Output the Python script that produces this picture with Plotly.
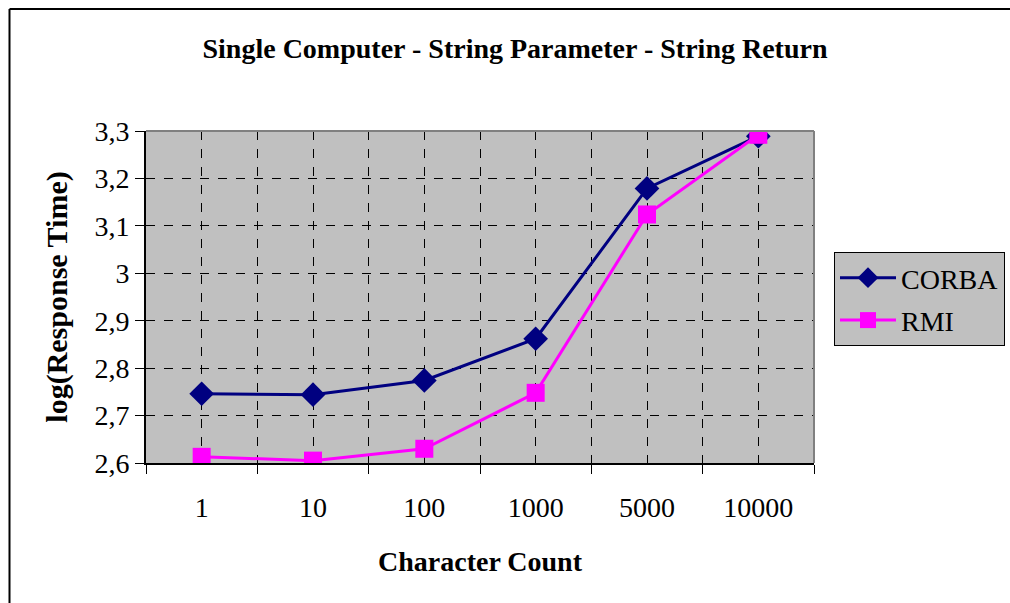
import plotly.graph_objects as go

# Data
categories = ["1", "10", "100", "1000", "5000", "10000"]
corba = [2.746, 2.744, 2.774, 2.862, 3.179, 3.289]
rmi = [2.613, 2.605, 2.630, 2.748, 3.124, 3.292]
y_ticks = [2.6, 2.7, 2.8, 2.9, 3.0, 3.1, 3.2, 3.3]

FONT = "Liberation Serif, Times New Roman, serif"
W, H = 1010, 603
L, R, T, B = 146, 196, 131, 140

xpos = list(range(len(categories)))

fig = go.Figure()
fig.add_trace(go.Scatter(
    x=xpos, y=corba, name="CORBA", mode="lines+markers", legendgroup="a",
    line=dict(color="#000080", width=3),
    marker=dict(symbol="diamond", size=19, color="#000080"),
))
fig.add_trace(go.Scatter(
    x=xpos, y=rmi, name="RMI", mode="lines+markers", legendgroup="b",
    line=dict(color="#FF00FF", width=3),
    marker=dict(symbol="square", size=18, color="#FF00FF"),
))

pw = W - L - R
ph = H - T - B

def px_x(p):
    return (p - L) / pw

def px_y(p):
    return (H - B - p) / ph

# Outer chart frame (top and left edges visible)
fig.add_shape(type="line", xref="paper", yref="paper",
              x0=px_x(9.5), x1=px_x(1015), y0=px_y(9), y1=px_y(9),
              line=dict(color="black", width=2))
fig.add_shape(type="line", xref="paper", yref="paper",
              x0=px_x(9.5), x1=px_x(9.5), y0=px_y(9), y1=px_y(610),
              line=dict(color="black", width=2))
# Plot-area top/right border in gray
fig.add_shape(type="line", xref="paper", yref="paper",
              x0=0, x1=1, y0=1, y1=1, line=dict(color="#808080", width=2))
fig.add_shape(type="line", xref="paper", yref="paper",
              x0=1, x1=1, y0=0, y1=1, line=dict(color="#808080", width=2))

fig.update_layout(
    width=W, height=H,
    margin=dict(l=L, r=R, t=T, b=B, autoexpand=False),
    paper_bgcolor="white",
    plot_bgcolor="#C0C0C0",
    separators=",.",
    font=dict(family=FONT, color="black", size=28),
    title=dict(text="<b>Single Computer - String Parameter - String Return</b>",
               x=px_x(515), xref="paper", xanchor="center",
               y=1 - 48 / H, yanchor="middle",
               font=dict(size=28, family=FONT)),
    showlegend=True,
    legend=dict(
        x=px_x(834), y=px_y(252), xanchor="left", yanchor="top",
        bgcolor="#C0C0C0", bordercolor="black", borderwidth=1,
        font=dict(size=28, family=FONT), itemwidth=56,
        tracegroupgap=3,
    ),
    xaxis=dict(
        range=[-0.5, len(categories) - 0.5],
        tickmode="array", tickvals=xpos, ticktext=categories,
        ticks="", ticklabelstandoff=18,
        showgrid=True, gridcolor="black", griddash="dash", gridwidth=1,
        showline=True, linecolor="black", linewidth=2,
        zeroline=False,
        minor=dict(tickmode="array",
                   tickvals=[i - 0.5 for i in range(len(categories) + 1)],
                   ticks="outside", ticklen=9, tickcolor="black", tickwidth=1,
                   showgrid=True, gridcolor="black", griddash="dash", gridwidth=1),
        title=dict(text="<b>Character Count</b>", standoff=30,
                   font=dict(size=28, family=FONT)),
        tickfont=dict(size=28, family=FONT),
    ),
    yaxis=dict(
        range=[2.6, 3.3],
        tickmode="array", tickvals=y_ticks,
        ticks="outside", ticklen=9, tickcolor="black", tickwidth=1,
        showgrid=True, gridcolor="black", griddash="dash", gridwidth=1,
        showline=True, linecolor="black", linewidth=2,
        zeroline=False,
        title=dict(text="<b>log(Response Time)</b>", standoff=18,
                   font=dict(size=30, family=FONT)),
        tickfont=dict(size=28, family=FONT),
    ),
)

fig.write_html("out.html")
